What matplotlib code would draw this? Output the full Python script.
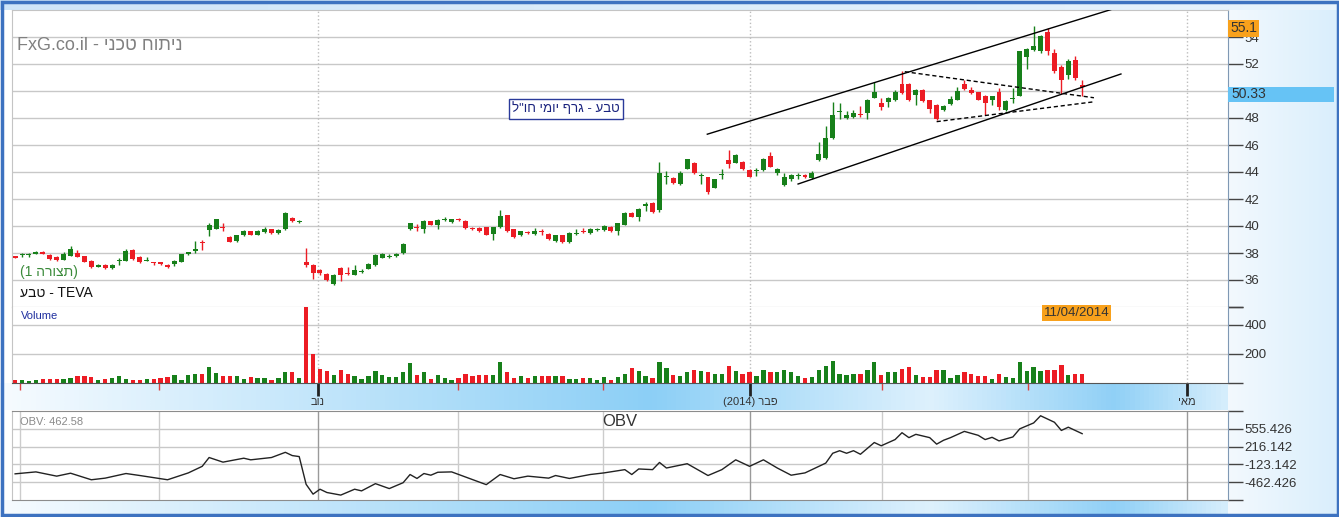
import numpy as np
import matplotlib
matplotlib.use("Agg")
import matplotlib.pyplot as plt
import matplotlib.transforms as mtransforms
from matplotlib.colors import LinearSegmentedColormap
from matplotlib.patches import Rectangle

plt.rcParams['font.family'] = ['Liberation Sans', 'DejaVu Sans']

W, H = 1339, 517

# daily candles, 30/08/2013 .. 11/04/2014 (TEVA, USD)
opens = [37.75, 37.83, 37.83, 37.95, 38.1, 37.85, 37.7, 37.5, 37.8, 38.0,
         37.75, 37.43, 37.0, 37.1, 36.9, 37.38, 37.43, 38.25, 37.7, 37.4,
         37.33, 37.3, 37.1, 37.15, 37.35, 37.9, 38.18, 38.78, 39.7, 39.8,
         39.9, 39.2, 38.9, 39.3, 39.6, 39.35, 39.55, 39.75, 39.45, 39.8,
         40.6, 40.3, 37.33, 37.1, 36.75, 36.45, 35.7, 36.9, 36.48, 36.4,
         36.62, 36.85, 37.1, 37.65, 37.73, 37.75, 38.0, 39.75, 39.93, 39.75,
         40.35, 40.1, 40.43, 40.3, 40.47, 40.4, 39.82, 39.85, 39.9, 39.4,
         39.9, 40.8, 39.75, 39.3, 39.53, 39.4, 39.57, 39.4, 38.9, 39.3,
         38.8, 39.38, 39.62, 39.45, 39.73, 39.7, 39.95, 39.6, 40.1, 41.0,
         40.65, 41.45, 41.7, 41.15, 43.62, 43.55, 43.1, 44.25, 44.7, 43.72,
         43.6, 42.85, 43.78, 44.9, 44.7, 44.75, 44.15, 44.08, 44.15, 45.15,
         43.9, 43.05, 43.5, 43.73, 43.78, 43.55, 44.9, 45.05, 46.5, 48.47,
         48.0, 48.1, 48.28, 48.35, 49.5, 49.1, 49.15, 49.3, 50.5, 50.5,
         49.7, 50.1, 49.3, 49.0, 48.6, 49.05, 49.35, 50.5, 50.05, 49.9,
         49.65, 49.3, 49.9, 48.6, 49.42, 49.65, 52.55, 53.05, 52.95, 54.35,
         52.8, 51.8, 51.15, 52.3, 50.45]
highs = [37.8, 38.0, 38.0, 38.15, 38.15, 37.9, 37.75, 38.05, 38.5, 38.2,
         37.8, 37.5, 37.15, 37.15, 37.15, 37.6, 38.3, 38.3, 37.75, 37.7,
         37.35, 37.35, 37.15, 37.45, 37.95, 38.1, 38.9, 39.0, 40.2, 40.55,
         40.2, 39.25, 39.35, 39.7, 39.65, 39.7, 39.95, 39.8, 39.75, 41.05,
         40.7, 40.45, 38.4, 37.15, 36.8, 36.5, 36.45, 36.95, 37.0, 37.1,
         36.8, 37.25, 37.9, 38.0, 37.9, 38.0, 38.75, 40.25, 40.15, 40.45,
         40.4, 40.5, 40.65, 40.55, 40.6, 40.45, 39.95, 39.9, 39.95, 39.95,
         41.2, 40.85, 39.8, 39.65, 39.6, 39.85, 39.75, 39.45, 39.35, 39.35,
         39.55, 39.8, 39.85, 39.85, 39.85, 40.1, 40.0, 40.25, 41.05, 41.05,
         41.3, 41.75, 41.75, 44.75, 44.1, 43.6, 44.05, 45.0, 44.75, 43.9,
         43.65, 43.5, 44.2, 45.6, 45.35, 44.8, 44.2, 44.3, 45.05, 45.5,
         44.3, 43.9, 43.85, 43.95, 43.85, 44.1, 46.25, 47.4, 49.2, 49.1,
         48.5, 48.6, 48.9, 49.4, 50.7, 49.5, 49.55, 50.1, 51.45, 50.6,
         50.15, 50.15, 49.35, 49.05, 48.95, 49.6, 50.3, 50.8, 50.3, 49.95,
         49.7, 49.65, 50.2, 49.3, 50.2, 53.0, 53.15, 54.85, 54.15, 54.65,
         53.1, 51.9, 52.4, 52.6, 50.8]
lows = [37.6, 37.7, 37.7, 37.9, 37.9, 37.5, 37.4, 37.45, 37.75, 37.7,
        37.3, 36.9, 36.95, 36.85, 36.85, 37.1, 37.4, 37.5, 37.25, 37.38,
        37.1, 37.1, 36.9, 37.05, 37.3, 37.85, 38.0, 38.2, 39.25, 39.75,
        39.6, 38.8, 38.85, 39.25, 39.3, 39.3, 39.5, 39.4, 39.4, 39.7,
        40.3, 40.25, 37.0, 36.1, 36.4, 35.95, 35.65, 35.9, 36.35, 36.35,
        36.55, 36.8, 37.05, 37.6, 37.6, 37.7, 37.95, 39.7, 39.65, 39.5,
        40.05, 39.8, 40.35, 40.25, 40.35, 39.8, 39.7, 39.55, 39.3, 39.0,
        39.85, 39.55, 39.1, 39.25, 39.4, 39.35, 39.3, 39.0, 38.85, 38.75,
        38.75, 39.3, 39.45, 39.4, 39.65, 39.65, 39.55, 39.35, 40.05, 40.65,
        40.35, 41.1, 41.0, 41.05, 43.1, 43.1, 43.05, 44.2, 43.85, 43.1,
        42.4, 42.8, 43.5, 44.3, 44.65, 44.15, 43.6, 43.7, 44.1, 44.35,
        43.8, 42.95, 43.35, 43.5, 43.55, 43.5, 44.85, 45.0, 46.45, 47.95,
        47.95, 48.0, 48.05, 47.9, 49.45, 48.6, 48.8, 49.25, 49.8, 49.25,
        49.0, 49.2, 48.4, 47.85, 48.55, 49.0, 49.3, 50.1, 49.8, 49.3,
        48.25, 49.0, 48.6, 48.55, 49.1, 49.6, 51.6, 53.0, 52.8, 52.7,
        51.3, 49.8, 50.9, 50.8, 49.65]
closes = [37.65, 37.87, 37.87, 38.05, 37.95, 37.55, 37.45, 37.95, 38.3, 37.73,
          37.35, 36.98, 37.08, 36.9, 37.1, 37.43, 38.17, 37.55, 37.3, 37.45,
          37.28, 37.15, 36.95, 37.38, 37.9, 38.05, 38.22, 38.72, 40.1, 40.5,
          39.82, 38.85, 39.3, 39.65, 39.35, 39.6, 39.8, 39.45, 39.7, 41.0,
          40.35, 40.4, 37.1, 36.5, 36.5, 36.0, 36.4, 36.35, 36.42, 36.75,
          36.68, 37.2, 37.85, 37.9, 37.77, 37.95, 38.7, 40.2, 39.87, 40.4,
          40.1, 40.45, 40.47, 40.5, 40.43, 39.85, 39.78, 39.6, 39.35, 39.9,
          40.75, 39.6, 39.15, 39.6, 39.47, 39.6, 39.53, 39.05, 39.3, 38.8,
          39.5, 39.42, 39.58, 39.8, 39.77, 40.0, 39.6, 40.2, 41.0, 40.7,
          41.25, 41.6, 41.05, 43.95, 43.68, 43.15, 43.95, 44.95, 43.9, 43.78,
          42.55, 43.45, 43.82, 44.6, 45.25, 44.2, 43.65, 44.12, 45.0, 44.4,
          44.2, 43.65, 43.75, 43.77, 43.6, 43.9, 45.3, 46.5, 48.25, 48.53,
          48.25, 48.35, 48.22, 49.35, 49.95, 48.8, 49.5, 49.9, 49.85, 49.3,
          50.05, 49.25, 48.65, 47.9, 48.9, 49.4, 50.0, 50.15, 49.85, 49.35,
          49.1, 49.6, 48.85, 49.25, 49.48, 52.95, 53.1, 53.35, 54.1, 53.0,
          51.45, 50.85, 52.25, 50.95, 50.33]
volumes = [23, 18, 16, 23, 30, 30, 25, 30, 32, 50,
           50, 41, 23, 25, 32, 50, 30, 18, 21, 25,
           30, 37, 41, 57, 23, 57, 64, 59, 112, 66,
           46, 46, 50, 30, 39, 34, 34, 23, 37, 78,
           73, 37, 560, 200, 98, 80, 57, 91, 64, 50,
           30, 50, 85, 57, 39, 41, 73, 137, 57, 78,
           30, 57, 37, 23, 37, 64, 50, 55, 57, 57,
           146, 73, 34, 48, 32, 48, 46, 46, 48, 48,
           30, 30, 32, 34, 23, 41, 23, 41, 64, 103,
           85, 50, 34, 146, 103, 57, 50, 73, 87, 80,
           73, 59, 64, 114, 80, 64, 73, 50, 87, 73,
           73, 91, 73, 46, 32, 39, 91, 114, 155, 64,
           55, 59, 59, 87, 142, 57, 73, 78, 98, 107,
           57, 41, 41, 87, 87, 34, 57, 73, 64, 50,
           46, 30, 64, 41, 34, 142, 80, 112, 80, 87,
           87, 126, 57, 64, 64]

# OBV (bar index, value)
obv_idx = [0, 3, 6, 8, 11, 13, 16, 18, 22, 25, 27, 28, 30, 33, 34, 37, 39, 40, 41,
           42, 43, 44, 45, 47, 49, 50, 52, 54, 56, 57, 58, 59, 60, 61, 63, 68, 70,
           72, 74, 77, 78, 80, 83, 85, 88, 89, 90, 92, 93, 94, 97, 100, 102, 104,
           106, 108, 110, 112, 114, 115, 117, 118, 119, 120, 121, 122, 124, 125,
           127, 128, 129, 130, 132, 133, 134, 135, 137, 139, 140, 141, 142, 144,
           145, 147, 148, 150, 151, 152, 154]
obv_val = [-303, -266, -347, -291, -416, -385, -297, -335, -416, -285, -160, 8, -80,
           -5, -36, 8, 107, 45, 26, -503, -690, -596, -659, -708, -596, -628, -490,
           -584, -472, -316, -391, -297, -329, -273, -266, -509, -316, -397, -347,
           -385, -335, -391, -316, -285, -223, -316, -210, -223, -86, -192, -110,
           -335, -223, -36, -160, -36, -192, -329, -285, -223, -98, 89, 138, 89,
           138, 70, 294, 232, 350, 481, 387, 450, 387, 263, 337, 387, 506, 431,
           350, 393, 325, 400, 555, 667, 804, 680, 524, 586, 462.58]

price_ticks = [34, 36, 38, 40, 42, 44, 46, 48, 50, 52, 54]
vol_ticks = [0, 200, 400, 524]
obv_ticks = [-801.71, -462.426, -123.142, 216.142, 555.426, 894.71]

# month starts on the bar axis; Nov, Feb, May carry labels
month_pos = [0.7, 20.8, 43.7, 63.9, 84.8, 106.1, 125.1, 146.2, 169.1]
major_pos = [43.7, 106.1, 169.1]

# drawn trend lines (bar index, price)
channel_top = [(99.9, 46.8), (158.4, 56.07)]
channel_bottom = [(113.0, 43.11), (159.6, 51.26)]
wedge_top = [(128.4, 51.43), (155.7, 49.5)]
wedge_bottom = [(133.0, 47.73), (155.7, 49.2)]

GREEN = "#17801a"
RED = "#ec1c24"


def heb(s):
    # no bidi in matplotlib: hand it Hebrew in visual order
    return s[::-1]


fig = plt.figure(figsize=(W / 100, H / 100), dpi=100)
fig.patch.set_facecolor("white")

bg = fig.add_axes([0, 0, 1, 1])
bg.axis("off")


def gradient(x0, x1, y0, y1, stops):
    cmap = LinearSegmentedColormap.from_list("g", stops)
    bg.imshow(np.linspace(0, 1, 256)[None, :], cmap=cmap, aspect="auto",
              extent=(x0, x1, y1, y0), interpolation="bilinear")


strip = [(0, "#f6fbff"), (0.53, "#8ccff6"), (0.76, "#def1fd"), (0.91, "#90d0f6"), (1, "#d4edfc")]
gradient(0, W, 0, 10, [(0, "#cfe5f8"), (1, "#e8f4fd")])
gradient(1228, W, 10, 517, [(0, "#f3f9fe"), (1, "#d9eefc")])
gradient(0, 1228, 383, 410, strip)
gradient(0, 1228, 500, 517, strip)
bg.set_xlim(0, W)
bg.set_ylim(H, 0)


def panel(top, bottom):
    a = fig.add_axes([12 / W, 1 - bottom / H, 1216 / W, (bottom - top) / H])
    a.set_facecolor("white")
    a.set_xlim(-0.45, 175.05)
    for s in a.spines.values():
        s.set_color("#c4c4c4")
    a.spines["right"].set_color("#7f98b4")
    a.tick_params(axis="x", bottom=False, labelbottom=False)
    a.yaxis.tick_right()
    a.tick_params(axis="y", length=11, width=1, color="#444444",
                  labelcolor="#333333", labelsize=9.5, pad=1)
    return a


ax = panel(10, 307)
axv = panel(307, 383)
axo = panel(411, 500)

x = np.arange(len(closes))
o = np.array(opens)
c = np.array(closes)
colors = [GREEN if cc >= oo else RED for oo, cc in zip(o, c)]

# price panel; the 50 label sits under the last-price box
ax.set_ylim(34, 56)
ax.set_yticks(price_ticks, ["" if t in (34, 50) else str(t) for t in price_ticks])
for t in price_ticks[1:]:
    ax.axhline(t, color="#c8c8c8", lw=1, zorder=0)
for p in major_pos:
    ax.axvline(p, color="#bdbdbd", lw=1, ls=":", zorder=0)
ax.spines["bottom"].set_color("#a0a0a0")
ax.vlines(x, lows, highs, colors=colors, lw=1, zorder=2)
ax.bar(x, np.maximum(np.abs(c - o), 0.08), bottom=np.minimum(o, c), width=0.72,
       color=colors, linewidth=0, zorder=3)
for line, dashed in [(channel_top, False), (channel_bottom, False), (wedge_top, True), (wedge_bottom, True)]:
    (x0, y0), (x1, y1) = line
    ln, = ax.plot([x0, x1], [y0, y1], color="black", lw=1, zorder=4)
    if dashed:
        ln.set_dashes((3, 2))

blend = mtransforms.blended_transform_factory(ax.transAxes, ax.transData)
ax.text(1.0 + 2 / 1216, 55.15, "55.1", transform=blend, ha="left", va="top", fontsize=10,
        color="#333333", zorder=6, clip_on=False,
        bbox=dict(boxstyle="square,pad=0.12", fc="#f8a11c", ec="none"))
ax.add_patch(Rectangle((1.0, closes[-1] - 15 / 13.5), 106 / 1216, 15 / 13.5, transform=blend,
                       fc="#66c3f5", ec="none", clip_on=False, zorder=5))
ax.text(1.0 + 3 / 1216, closes[-1] - 7.5 / 13.5, "%.2f" % closes[-1], transform=blend,
        ha="left", va="center", fontsize=10, color="#333333", zorder=6, clip_on=False)

# volume panel
axv.set_ylim(0, 524)
axv.set_yticks(vol_ticks, ["", "200", "400", ""])
axv.spines["top"].set_visible(False)
axv.spines["bottom"].set_color("#555555")
for t in (200, 400):
    axv.axhline(t, color="#c8c8c8", lw=1, zorder=0)
for p in major_pos:
    axv.axvline(p, color="#bdbdbd", lw=1, ls=":", zorder=0)
axv.bar(x, volumes, width=0.62, color=colors, linewidth=0, zorder=2)
axv.set_xticks(major_pos, [heb("נוב"), "(2014) " + heb("פבר"), heb("מאי")])
axv.set_xticks([p for p in month_pos if p not in major_pos], minor=True)
axv.tick_params(axis="x", which="major", bottom=True, labelbottom=True, length=9, width=2,
                color="#222222", labelcolor="#333333", labelsize=8, pad=1)
axv.tick_params(axis="x", which="minor", bottom=True, length=5, width=1, color="#e04040")
axv.text(153.2, 524, "11/04/2014", ha="center", va="top", fontsize=9.5, color="#333333",
         zorder=6, clip_on=False, bbox=dict(boxstyle="square,pad=0.15", fc="#f8a11c", ec="none"))

# OBV panel
axo.set_ylim(obv_ticks[0], obv_ticks[-1])
axo.set_yticks(obv_ticks, [""] + ["%g" % t for t in obv_ticks[1:-1]] + [""])
axo.spines["top"].set_color("#8c8c8c")
axo.spines["bottom"].set_color("#8c8c8c")
for t in obv_ticks[1:-1]:
    axo.axhline(t, color="#c8c8c8", lw=1, zorder=0)
for p in month_pos:
    axo.axvline(p, color="#9a9a9a" if p in major_pos else "#cccccc", lw=1, zorder=0)
axo.plot(obv_idx, obv_val, color="#222222", lw=1, zorder=2)

# free texts and frame, in pixel coordinates
ov = fig.add_axes([0, 0, 1, 1], zorder=10)
ov.axis("off")
ov.set_xlim(0, W)
ov.set_ylim(H, 0)
ov.text(17, 46, "FxG.co.il - " + heb("ניתוח טכני"), fontsize=13, color="#808080", va="center")
ov.text(20, 272, "(1 " + heb("תצורה") + ")", fontsize=10, color="#3a8a3a", va="center")
ov.text(20, 293, heb("טבע") + " - TEVA", fontsize=10, color="#111111", va="center")
ov.text(566, 109, heb('טבע - גרף יומי חו"ל'), fontsize=9.5, color="#1a237e", ha="center",
        va="center", bbox=dict(boxstyle="square,pad=0.25", fc="white", ec="#2a3a9a", lw=1))
ov.text(21, 316, "Volume", fontsize=8, color="#1f2f9f", va="center")
ov.text(20, 422, "OBV: 462.58", fontsize=8, color="#8a8a8a", va="center")
ov.text(620, 422, "OBV", fontsize=12, color="#333333", ha="center", va="center")
ov.add_patch(Rectangle((1.5, 1.5), W - 3, H - 4, fill=False, ec="#3d72c0", lw=2.5))

fig.savefig("out.png", dpi=100)
